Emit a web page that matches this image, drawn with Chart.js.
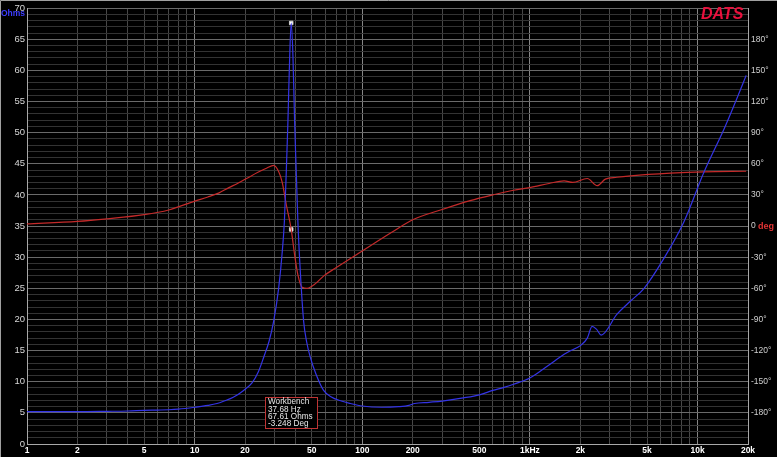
<!DOCTYPE html>
<html>
<head>
<meta charset="utf-8">
<script src="https://cdn.jsdelivr.net/npm/chart.js@4.4.1/dist/chart.umd.min.js"></script>
<style>
  html, body { margin: 0; padding: 0; background: #000; overflow: hidden; }
</style>
</head>
<body>
<canvas id="impChart" width="777" height="457"></canvas>
<script>
// impedance sweep (Hz / Ohms)
const freqHz = [1, 2, 3, 4, 5, 6, 7, 8, 10, 12, 13.6, 15, 17, 19.6, 22, 24, 25.8, 27.8, 29.6, 31.7,
  33.2, 34.3, 35.2, 36.0, 36.9, 37.68, 38.6, 39.5, 40.4, 41.3, 42.7, 44.7, 46.5, 49, 53, 58.8,
  65, 75, 85, 100, 130, 165, 190, 205, 250, 300, 400, 500, 600, 700, 800, 1000, 1300, 1600,
  1750, 2000, 2200, 2350, 2500, 2660, 3300, 4000, 4800, 6300, 8300, 10900, 14350, 17000, 19500];
const ohms = [5.2, 5.2, 5.25, 5.3, 5.4, 5.45, 5.5, 5.6, 5.9, 6.2, 6.5, 6.9, 7.5, 8.6, 9.8, 11.6,
  13.9, 16.5, 19.7, 25.0, 30.4, 35.7, 43.6, 51.6, 62.2, 67.61, 62.2, 51.6, 43.6, 35.7, 27.7, 19.7,
  16.5, 13.9, 11.2, 8.6, 7.6, 6.9, 6.5, 6.1, 5.9, 6.0, 6.2, 6.5, 6.7, 6.9, 7.4, 7.9, 8.6, 9.1,
  9.6, 10.6, 12.7, 14.4, 15.0, 15.8, 17.0, 18.9, 18.4, 17.5, 20.8, 23.0, 25.0, 29.8, 35.7, 43.6,
  50.5, 55.2, 59.2];

// phase sweep (Hz / degrees)
const phaseFreqHz = [1, 2, 3, 5, 7, 10, 12, 14, 16, 18, 20, 24, 27, 29.6, 31.8, 33.3, 35.3, 37.68,
  39.5, 41.3, 43.8, 46.8, 50, 53, 59, 70, 100, 150, 200, 300, 440, 600, 800, 1000, 1300, 1600,
  1800, 2200, 2520, 2820, 3300, 4000, 6900, 10900, 19500];
const phaseDeg = [2, 4.5, 7, 11, 15.5, 24, 28, 32, 37, 41, 45, 52, 56, 58.5, 52, 42, 19.8, -3.25,
  -28, -47, -59, -60, -58, -55, -48, -40, -24, -6, 6, 16, 24.5, 30, 34.5, 37, 41, 43.6,
  42, 45.8, 38.9, 45.2, 47, 48.4, 50.9, 52.2, 52.8];

// cursor readout
const markerHz = [37.68];
const markerOhms = [67.61];
const markerDeg = [-3.248];

const xTickValues = [];
[1, 10, 100, 1000, 10000].forEach(d => {
  for (let m = 1; m <= 9; m++) if (m * d <= 20000) xTickValues.push(m * d);
});
const xTickLabels = {1: '1', 2: '2', 5: '5', 10: '10', 20: '20', 50: '50', 100: '100', 200: '200',
  500: '500', 1000: '1kHz', 2000: '2k', 5000: '5k', 10000: '10k', 20000: '20k'};
const ohmTicks = [];
for (let v = 0; v <= 70; v++) ohmTicks.push(v);
const degTicks = [-180, -150, -120, -90, -60, -30, 0, 30, 60, 90, 120, 150, 180];

const isDecade = v => Math.abs(Math.log10(v) - Math.round(Math.log10(v))) < 1e-9;

const overlay = {
  id: 'overlay',
  afterDraw(chart) {
    const ctx = chart.ctx;
    const y1 = chart.scales.y1;
    ctx.save();
    ctx.strokeStyle = '#a0a0a0';
    ctx.lineWidth = 1;
    ctx.beginPath();
    ctx.moveTo(0.5, 457); ctx.lineTo(0.5, 0.5); ctx.lineTo(777, 0.5);
    ctx.stroke();

    ctx.fillStyle = '#3d3dff';
    ctx.font = 'bold 8.5px "Liberation Sans"';
    ctx.textAlign = 'right';
    ctx.textBaseline = 'middle';
    ctx.fillText('Ohms', 25, 13.5);

    ctx.fillStyle = '#e03434';
    ctx.textAlign = 'left';
    ctx.font = 'bold 9px "Liberation Sans"';
    ctx.fillText('deg', 758, y1.getPixelForValue(0) + 0.5);

    ctx.font = 'italic bold 16px "Liberation Sans"';
    ctx.fillStyle = '#e8103c';
    ctx.textBaseline = 'alphabetic';
    ctx.fillText('DATS', 701, 18.5);

    // readout box
    ctx.fillStyle = '#000';
    ctx.fillRect(265, 397, 53, 32);
    ctx.strokeStyle = '#c03434';
    ctx.strokeRect(265.5, 397.5, 52, 31);
    ctx.fillStyle = '#e8e8e8';
    ctx.font = '8.2px "Liberation Sans"';
    ctx.textBaseline = 'middle';
    const lines = ['Workbench', markerHz[0].toFixed(2) + ' Hz',
      markerOhms[0].toFixed(2) + ' Ohms', markerDeg[0].toFixed(3) + ' Deg'];
    lines.forEach((t, i) => ctx.fillText(t, 268, 402 + i * 7.4));
    ctx.restore();
  }
};

new Chart(document.getElementById('impChart'), {
  type: 'line',
  data: {
    datasets: [
      {
        label: 'Ohms',
        data: freqHz.map((f, i) => ({x: f, y: ohms[i]})),
        yAxisID: 'y',
        borderColor: '#3434e6',
        borderWidth: 1.2,
        pointRadius: 0,
        cubicInterpolationMode: 'monotone'
      },
      {
        label: 'Phase',
        data: phaseFreqHz.map((f, i) => ({x: f, y: phaseDeg[i]})),
        yAxisID: 'y1',
        borderColor: '#c42a2a',
        borderWidth: 1.2,
        pointRadius: 0,
        cubicInterpolationMode: 'monotone'
      },
      {
        label: 'cursor ohms',
        data: markerHz.map((f, i) => ({x: f, y: markerOhms[i]})),
        yAxisID: 'y',
        showLine: false,
        pointStyle: 'rect',
        pointRadius: 2.5,
        backgroundColor: '#ffffff',
        borderColor: '#cccccc',
        borderWidth: 1
      },
      {
        label: 'cursor phase',
        data: markerHz.map((f, i) => ({x: f, y: markerDeg[i]})),
        yAxisID: 'y1',
        showLine: false,
        pointStyle: 'rect',
        pointRadius: 2.5,
        backgroundColor: '#ffffff',
        borderColor: '#cccccc',
        borderWidth: 1
      }
    ]
  },
  options: {
    responsive: false,
    animation: false,
    devicePixelRatio: 1,
    layout: { padding: { top: 5, left: 0, right: 0, bottom: 0 } },
    plugins: { legend: { display: false }, tooltip: { enabled: false } },
    scales: {
      x: {
        type: 'logarithmic',
        min: 1,
        max: 20000,
        afterBuildTicks: s => { s.ticks = xTickValues.map(v => ({value: v})); },
        afterFit: s => { s.height = 13; },
        border: { color: '#a8a8a8' },
        grid: {
          drawTicks: false,
          color: c => (c.tick && isDecade(c.tick.value)) ? '#858585' : '#474747'
        },
        ticks: {
          autoSkip: false,
          maxRotation: 0,
          padding: 2,
          color: '#ffffff',
          font: { family: 'Liberation Sans', size: 8.5, weight: 'bold' },
          callback: v => xTickLabels[v] || ''
        }
      },
      y: {
        position: 'left',
        min: 0,
        max: 70,
        afterBuildTicks: s => { s.ticks = ohmTicks.map(v => ({value: v})); },
        afterFit: s => { s.width = 27; },
        border: { color: '#a8a8a8' },
        grid: {
          drawTicks: false,
          color: c => (c.tick && c.tick.value % 5 === 0) ? '#6a6a6a' : '#333333'
        },
        ticks: {
          autoSkip: false,
          padding: 2,
          color: '#d8d8d8',
          font: { family: 'Liberation Sans', size: 9.5 },
          callback: v => v % 5 === 0 ? String(v) : ''
        }
      },
      y1: {
        position: 'right',
        min: -210,
        max: 210,
        afterBuildTicks: s => { s.ticks = degTicks.map(v => ({value: v})); },
        afterFit: s => { s.width = 29; },
        border: { color: '#a8a8a8' },
        grid: { drawOnChartArea: false, drawTicks: false },
        ticks: {
          autoSkip: false,
          padding: 3,
          color: '#d0d0d0',
          font: { family: 'Liberation Sans', size: 8.5 },
          callback: v => v === 0 ? '0' : v + '\u00b0'
        }
      }
    }
  },
  plugins: [overlay]
});
</script>
</body>
</html>
